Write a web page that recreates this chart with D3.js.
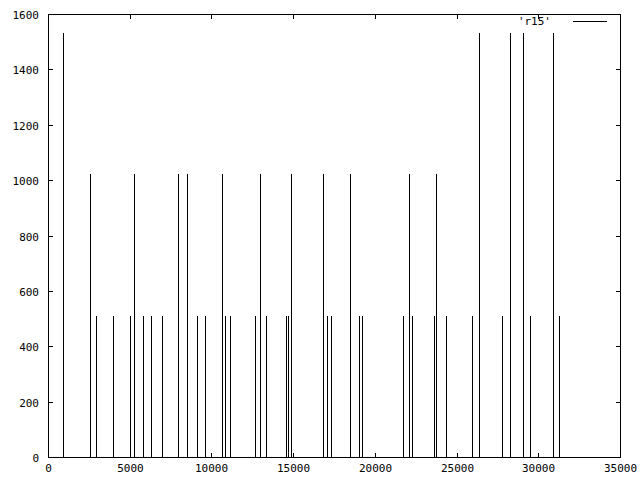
<!DOCTYPE html>
<html>
<head>
<meta charset="utf-8">
<script src="https://cdn.jsdelivr.net/npm/d3@7"></script>
<style>
  body { margin: 0; background: #fff; }
  text { font-family: "DejaVu Sans Mono", monospace; font-size: 11px; fill: #000; }
</style>
</head>
<body>
<div id="chart"></div>
<script>
// impulse positions (x) and heights
const xs = [936, 2588, 2955, 3996, 5036, 5281, 5831, 6321, 6994, 7973, 8524, 9136, 9625,
  10629, 10849, 11155, 12685, 12991, 13340, 14545, 14704, 14888, 16846, 17090, 17335,
  18498, 19049, 19232, 21704, 22071, 22255, 23638, 23760, 24372, 25963, 26391, 27799,
  28289, 29084, 29512, 30920, 31287];
const heights = [1536, 1024, 512, 512, 512, 1024, 512, 512, 512, 1024, 1024, 512, 512,
  1024, 512, 512, 512, 1024, 512, 512, 512, 1024, 1024, 512, 512,
  1024, 512, 512, 512, 1024, 512, 512, 1024, 512, 512, 1536, 512,
  1536, 1536, 512, 1536, 512];
const xTicks = [0, 5000, 10000, 15000, 20000, 25000, 30000, 35000];
const yTicks = [0, 200, 400, 600, 800, 1000, 1200, 1400, 1600];
const seriesName = "'r15'";

const W = 640, H = 480;
const plotL = 48, plotR = 620, plotT = 14, plotB = 457;
const tickLen = 5;

const svg = d3.select("#chart").append("svg")
  .attr("width", W).attr("height", H)
  .attr("shape-rendering", "crispEdges");

const x = d3.scaleLinear().domain([0, 35000]).range([plotL, plotR]);
const y = d3.scaleLinear().domain([0, 1600]).range([plotB, plotT]);
const px = v => Math.round(x(v)) + 0.5;
const py = v => Math.round(y(v)) + 0.5;

// ticks on all four sides, pointing inward
yTicks.forEach(t => {
  svg.append("line").attr("x1", plotL).attr("x2", plotL + tickLen)
    .attr("y1", py(t)).attr("y2", py(t)).attr("stroke", "#000");
  svg.append("line").attr("x1", plotR + 1 - tickLen).attr("x2", plotR + 1)
    .attr("y1", py(t)).attr("y2", py(t)).attr("stroke", "#000");
  svg.append("text").attr("x", plotL - 9).attr("y", py(t) + 4)
    .attr("text-anchor", "end").text(t);
});
xTicks.forEach(t => {
  svg.append("line").attr("x1", px(t)).attr("x2", px(t))
    .attr("y1", plotB + 1).attr("y2", plotB + 1 - tickLen).attr("stroke", "#000");
  svg.append("line").attr("x1", px(t)).attr("x2", px(t))
    .attr("y1", plotT).attr("y2", plotT + tickLen).attr("stroke", "#000");
  svg.append("text").attr("x", px(t)).attr("y", plotB + 15)
    .attr("text-anchor", "middle").text(t);
});

// impulses
svg.append("g").selectAll("line").data(xs).join("line")
  .attr("x1", d => px(d)).attr("x2", d => px(d))
  .attr("y1", py(0)).attr("y2", (d, i) => py(heights[i]))
  .attr("stroke", "#000");

// border
svg.append("rect")
  .attr("x", plotL + 0.5).attr("y", plotT + 0.5)
  .attr("width", plotR - plotL).attr("height", plotB - plotT)
  .attr("fill", "none").attr("stroke", "#000");

// legend
svg.append("text").attr("x", 551).attr("y", 25)
  .attr("text-anchor", "end").text(seriesName);
svg.append("line").attr("x1", 573).attr("x2", 607)
  .attr("y1", 21.5).attr("y2", 21.5).attr("stroke", "#000");
</script>
</body>
</html>
